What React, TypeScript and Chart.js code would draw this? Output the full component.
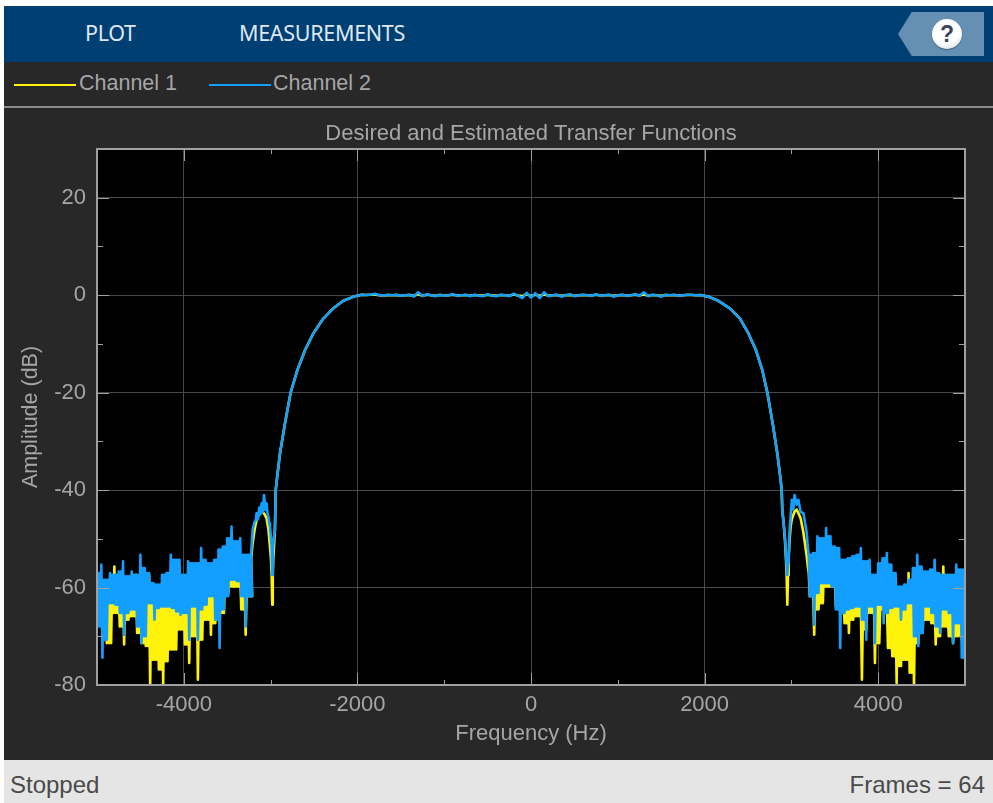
import React, { useEffect, useRef } from "react";
import { Chart, registerables } from "chart.js";

Chart.register(...registerables);

const chartTitle = "Desired and Estimated Transfer Functions";
const xAxisTitle = "Frequency (Hz)";
const yAxisTitle = "Amplitude (dB)";
const seriesNames = ["Channel 1", "Channel 2"];
const tabs = ["PLOT", "MEASUREMENTS"];
const statusLeft = "Stopped";
const statusRight = "Frames = 64";
const xLabelled = [-4000, -2000, 0, 2000, 4000];
const yLabelled = [20, 0, -20, -40, -60, -80];

const leftSideFreqs = [-5000,-4950,-4900,-4850,-4800,-4750,-4700,-4650,-4600,-4550,-4500,-4450,-4400,-4350,-4300,-4250,-4200,-4150,-4100,-4050,-4000,-3950,-3900,-3850,-3800,-3750,-3700,-3650,-3600,-3550,-3500,-3450,-3400,-3350,-3300,-3250];
const rightSideFreqs = [3200,3250,3300,3350,3400,3450,3500,3550,3600,3650,3700,3750,3800,3850,3900,3950,4000,4050,4100,4150,4200,4250,4300,4350,4400,4450,4500,4550,4600,4650,4700,4750,4800,4850,4900,4950];

const ch1LeftHigh = [-58.4,-59.1,-59.8,-58.4,-55.7,-60.4,-58.4,-60.4,-59.8,-57.4,-58.4,-60.4,-57.4,-60.4,-62.5,-60.4,-61.1,-59.8,-60.4,-61.1,-61.1,-59.8,-60.4,-59.8,-59.1,-59.8,-59.1,-58.4,-57,-57,-55,-52.9,-55,-57,-59.8,-58.4];
const ch1LeftLow = [-66.9,-70,-71.4,-71.4,-65.2,-68,-71.7,-66.6,-65.9,-69.3,-71.4,-72,-80.4,-74.8,-76.8,-79.7,-75.1,-72.7,-72.7,-68.6,-71.7,-75.5,-70,-78.9,-70.7,-66.6,-69.7,-67.3,-66.6,-65.2,-61.1,-59.8,-59.8,-64.5,-69.7,-61.8];
const ch2LeftHigh = [-57,-55.3,-58.4,-57,-57.4,-56.7,-54.6,-57.7,-56.7,-57.4,-53.3,-56,-57,-59.1,-59.4,-57.4,-57,-53.3,-54.3,-54.3,-57.4,-54.6,-55,-55,-51.9,-54.3,-55,-54.3,-52.2,-51.6,-49.9,-47.5,-50.5,-49.9,-53.3,-53.3];
const ch2LeftLow = [-68,-74.4,-70.7,-63.2,-63.5,-65.2,-69.7,-65.2,-64.5,-68,-71.4,-70,-63.2,-66.6,-64.2,-63.9,-63.9,-64.2,-64.9,-65.6,-65.2,-70.7,-63.9,-70.7,-64.5,-63.5,-61.8,-66.6,-72.4,-64.5,-61.8,-58.4,-58.7,-61.8,-68,-61.8];

const riseFreqs = [-3225,-3207,-3185,-3172,-3161,-3145,-3130,-3118,-3103,-3090,-3076,-3060,-3046,-3035,-3025,-3015,-3007,-2995,-2988,-2981,-2975,-2969,-2950,-2941,-2929,-2892,-2834,-2769,-2692,-2604,-2508,-2393,-2277,-2162,-2028,-1950];
const ch1Rise = [-54.3,-50.9,-48.2,-47,-46.1,-45.3,-44.9,-44.6,-44.4,-44.5,-44.8,-45.3,-45.8,-47,-48,-50,-51.6,-54.5,-57.4,-63.5,-57.4,-54,-48.1,-40,-38,-32.5,-26.3,-20,-15.4,-11.3,-7.85,-4.8,-2.7,-1.15,-0.2,0.1];
const ch2Rise = [-53.3,-48.1,-46.5,-46.2,-44.7,-46,-43.6,-45,-42.7,-44.5,-41,-44,-42.7,-45,-45.5,-46.8,-47.5,-50,-51.6,-57.4,-52.5,-51,-48.1,-40,-38,-32.5,-26.3,-20,-15.4,-11.3,-7.85,-4.8,-2.7,-1.15,-0.2,0.1];

const passFreqs = [-1900,-1850,-1800,-1750,-1700,-1650,-1600,-1550,-1500,-1450,-1400,-1350,-1300,-1250,-1200,-1150,-1100,-1050,-1000,-950,-900,-850,-800,-750,-700,-650,-600,-550,-500,-450,-400,-350,-300,-250,-200,-150,-100,-50,0,50,100,150,200,250,300,350,400,450,500,550,600,650,700,750,800,850,900,950,1000,1050,1100,1150,1200,1250,1300,1350,1400,1450,1500,1550,1600,1650,1700,1750,1800,1850,1900];
const ch1Pass = [0.05,0.1,0.15,0,-0.1,0.05,0,0.05,-0.1,0,0.05,-0.1,0.2,-0.1,0.1,0,-0.1,0.05,-0.05,0,0.1,-0.05,0,0.05,-0.1,0.05,-0.05,-0.1,0.1,-0.05,-0.1,0.05,0,-0.1,0.15,-0.05,-0.2,0.2,-0.15,0.1,-0.1,0.15,-0.05,0,0.05,-0.1,0,0.05,-0.1,0,0.05,0,-0.05,0.1,-0.05,0,0.05,-0.1,0,0.05,-0.05,0,0.1,-0.05,0.15,-0.1,0.05,0,-0.1,0.05,0,0.05,-0.05,0,0.05,0.05,0];
const ch2Pass = [0.05,0.1,0.3,0.05,-0.1,0.1,0,0.1,-0.1,0,0.1,-0.3,0.6,-0.2,0.2,0,-0.2,0.1,-0.1,0,0.2,-0.1,0,0.1,-0.2,0.1,-0.1,-0.2,0.2,-0.1,-0.2,0.1,0,-0.2,0.3,-0.1,-0.6,0.5,-0.5,0.4,-0.6,0.6,-0.2,0,0.1,-0.3,0,0.2,-0.2,0,0.1,0,-0.1,0.2,-0.1,0,0.1,-0.3,0,0.1,-0.1,0,0.2,-0.1,0.6,-0.2,0.1,0,-0.3,0.1,0,0.1,-0.1,0,0.1,0.1,0];

const fallFreqs = [1950,2050,2158,2292,2408,2505,2592,2665,2723,2784,2838,2876,2888,2895,2914,2928,2938,2945,2953,2961,2968,2980,2991,3005,3022,3037,3060,3080,3106,3137,3156,3176,3190];
const ch1Fall = [0.05,-0.35,-1.15,-2.7,-4.8,-7.85,-11.3,-15.4,-20,-26.3,-32.5,-37.9,-40,-44,-47.5,-51,-54.3,-57.4,-63.5,-57.4,-54.3,-50,-47.5,-46,-45.1,-44.4,-44,-44.7,-45.8,-48.6,-50.9,-53.5,-55.8];
const ch2Fall = [0.05,-0.35,-1.15,-2.7,-4.8,-7.85,-11.3,-15.4,-20,-26.3,-32.5,-37.9,-40,-44,-47.5,-50,-53.6,-55.5,-57.4,-55,-53.6,-48,-45.5,-42,-44,-41,-43,-42,-44.5,-44.7,-46.5,-48.8,-52];

const ch1RightHigh = [-57,-59.8,-59.1,-55.7,-54.6,-53.3,-57.7,-60.4,-61.1,-59.8,-60.8,-61.1,-63.9,-63.2,-62.5,-61.1,-61.8,-62.5,-63.2,-64.2,-63.9,-63.2,-61.1,-57,-61.1,-61.1,-57.4,-61.8,-61.8,-62.5,-61.1,-55.7,-63.9,-63.9,-65.2,-65.2];
const ch1RightLow = [-61.8,-69.7,-64.5,-63.2,-59.8,-59.8,-63.9,-65.2,-67.3,-69.3,-66.6,-65.9,-78.9,-68.6,-65.2,-75.5,-71.4,-64.5,-72.4,-74.1,-79.6,-76.1,-74.8,-77.5,-80.4,-71.4,-69.3,-66.6,-67.3,-71.7,-70,-68,-70,-71.4,-70,-70.7];
const ch2RightHigh = [-53.3,-52.9,-49.5,-49.9,-47.8,-49.5,-51.6,-51.9,-54.3,-54,-53.6,-53.3,-51.9,-54.6,-54.3,-57.4,-55,-54,-52.9,-55.3,-57,-59.8,-59.4,-58.4,-56,-53.3,-55.7,-56.7,-56.3,-54.3,-57,-57.4,-57.4,-57.4,-55.3,-56.3];
const ch2RightLow = [-61.8,-67.6,-61.1,-59.1,-59.1,-59.8,-64.5,-72.4,-65.2,-64.5,-64.2,-63.9,-66.6,-70.7,-63.9,-71.4,-63.5,-67.3,-65.2,-64.2,-63.9,-66.6,-64.5,-63.2,-70,-72,-69.3,-63.9,-65.2,-68,-69.3,-64.5,-65.2,-71.4,-67.3,-74.4];
const edgeFreq = 5000;
const ch1Edge = -56.3;
const ch2Edge = -57;

type Pt = { x: number; y: number };

// Each 50 Hz cell swings to its own readings, then to the band shared with the next cell,
// so the noise reads as a solid band with narrow spikes at its edges.
const band = (freqs: number[], hi: number[], lo: number[]): Pt[] =>
  freqs.flatMap((f, i) => {
    const j = Math.min(i + 1, freqs.length - 1);
    return [
      { x: f, y: hi[i] },
      { x: f + 12.5, y: lo[i] },
      { x: f + 25, y: Math.min(hi[i], hi[j]) },
      { x: f + 37.5, y: Math.max(lo[i], lo[j]) },
    ];
  });
const run = (freqs: number[], ys: number[]): Pt[] => freqs.map((f, i) => ({ x: f, y: ys[i] }));

const ch1Points: Pt[] = [
  ...band(leftSideFreqs, ch1LeftHigh, ch1LeftLow),
  ...run(riseFreqs, ch1Rise),
  ...run(passFreqs, ch1Pass),
  ...run(fallFreqs, ch1Fall),
  ...band(rightSideFreqs, ch1RightHigh, ch1RightLow),
  { x: edgeFreq, y: ch1Edge },
];
const ch2Points: Pt[] = [
  ...band(leftSideFreqs, ch2LeftHigh, ch2LeftLow),
  ...run(riseFreqs, ch2Rise),
  ...run(passFreqs, ch2Pass),
  ...run(fallFreqs, ch2Fall),
  ...band(rightSideFreqs, ch2RightHigh, ch2RightLow),
  { x: edgeFreq, y: ch2Edge },
];

const YELLOW = "#FFF20A";
const BLUE = "#129FFF";
const DARK = "#282828";
const TEXT = "#a6a6a6";
const FRAME = "#a0a0a0";
const GRID = "#484848";
const FONT = '"Liberation Sans", Arial, sans-serif';

const innerTicks = {
  id: "innerTicks",
  afterDraw(chart: any) {
    const { ctx, chartArea: a, scales } = chart;
    ctx.save();
    ctx.strokeStyle = FRAME;
    ctx.lineWidth = 1;
    for (let v = -4000; v <= 4000; v += 1000) {
      const p = Math.round(scales.x.getPixelForValue(v)) + 0.5;
      const len = xLabelled.includes(v) ? 12 : 5;
      ctx.beginPath();
      ctx.moveTo(p, a.top);
      ctx.lineTo(p, a.top + len);
      ctx.moveTo(p, a.bottom);
      ctx.lineTo(p, a.bottom - len);
      ctx.stroke();
    }
    for (let v = -70; v <= 20; v += 10) {
      const p = Math.round(scales.y.getPixelForValue(v)) + 0.5;
      const len = yLabelled.includes(v) ? 12 : 6;
      ctx.beginPath();
      ctx.moveTo(a.left, p);
      ctx.lineTo(a.left + len, p);
      ctx.moveTo(a.right, p);
      ctx.lineTo(a.right - len, p);
      ctx.stroke();
    }
    ctx.lineWidth = 2;
    ctx.strokeRect(a.left, a.top, a.right - a.left, a.bottom - a.top);
    ctx.restore();
  },
};

const blackPlot = {
  id: "blackPlot",
  beforeDraw(chart: any) {
    const { ctx, chartArea: a } = chart;
    ctx.save();
    ctx.fillStyle = "#000";
    ctx.fillRect(a.left, a.top, a.right - a.left, a.bottom - a.top);
    ctx.restore();
  },
};

export default function App() {
  const ref = useRef<HTMLCanvasElement>(null);
  useEffect(() => {
    document.body.style.margin = "0";
    document.body.style.background = "#fff";
    const chart = new Chart(ref.current!, {
      type: "line",
      data: {
        datasets: [
          { label: seriesNames[0], data: ch1Points, borderColor: YELLOW, backgroundColor: YELLOW, borderWidth: 2.6, pointRadius: 0, order: 2, tension: 0, borderJoinStyle: "round" },
          { label: seriesNames[1], data: ch2Points, borderColor: BLUE, backgroundColor: BLUE, borderWidth: 2.6, pointRadius: 0, order: 1, tension: 0, borderJoinStyle: "round" },
        ],
      },
      options: {
        animation: false,
        responsive: false,
        parsing: false,
        normalized: true,
        layout: { padding: { left: 14, right: 28, top: 0, bottom: 13 } },
        plugins: {
          legend: { display: false },
          tooltip: { enabled: false },
          title: {
            display: true,
            text: chartTitle,
            color: TEXT,
            fullSize: false,
            font: { family: FONT, size: 22, weight: "normal" },
            padding: { top: 13, bottom: 1.6 },
          },
        },
        scales: {
          x: {
            type: "linear",
            min: -5000,
            max: 5000,
            afterFit: (s: any) => { s.height = 62; },
            afterBuildTicks: (s: any) => {
              s.ticks = [-5000,-4000,-3000,-2000,-1000,0,1000,2000,3000,4000,5000].map((value) => ({ value }));
            },
            ticks: {
              color: TEXT,
              font: { family: FONT, size: 22 },
              padding: 7,
              maxRotation: 0,
              autoSkip: false,
              callback: (v: any) => (xLabelled.includes(Number(v)) ? String(v) : ""),
            },
            border: { display: false },
            grid: {
              drawTicks: false,
              lineWidth: 1,
              color: (c: any) => (xLabelled.includes(c.tick?.value) ? GRID : "transparent"),
            },
            title: { display: true, text: xAxisTitle, color: TEXT, font: { family: FONT, size: 22 }, padding: { top: 6, bottom: 0 } },
          },
          y: {
            type: "linear",
            min: -80,
            max: 30,
            afterFit: (s: any) => { s.width = 79; },
            afterBuildTicks: (s: any) => {
              s.ticks = [-80,-70,-60,-50,-40,-30,-20,-10,0,10,20,30].map((value) => ({ value }));
            },
            ticks: {
              color: TEXT,
              font: { family: FONT, size: 22 },
              padding: 11,
              autoSkip: false,
              callback: (v: any) => (yLabelled.includes(Number(v)) ? String(v) : ""),
            },
            border: { display: false },
            grid: {
              drawTicks: false,
              lineWidth: 1,
              color: (c: any) => (yLabelled.includes(c.tick?.value) ? GRID : "transparent"),
            },
            title: { display: true, text: yAxisTitle, color: TEXT, font: { family: FONT, size: 21.5 }, padding: { top: 0, bottom: 4 } },
          },
        },
      },
      plugins: [blackPlot, innerTicks],
    } as any);
    return () => chart.destroy();
  }, []);

  const abs = (l: number, t: number, w: number, h: number): React.CSSProperties => ({ position: "absolute", left: l, top: t, width: w, height: h });
  const textStyle: React.CSSProperties = { position: "absolute", whiteSpace: "nowrap", fontFamily: FONT };
  const tabStyle: React.CSSProperties = { ...textStyle, top: 19, fontFamily: '"Noto Sans"', fontSize: 21.5, letterSpacing: -0.3, lineHeight: "28px", color: "#dfe8f0" };

  return (
    <div style={{ ...abs(0, 0, 993, 803), background: "#fff", overflow: "hidden" }}>
      <div style={{ ...abs(4, 6, 989, 56), background: "#003f73" }} />
      <div style={{ ...tabStyle, left: 85 }}>{tabs[0]}</div>
      <div style={{ ...tabStyle, left: 239 }}>{tabs[1]}</div>
      <div style={{ ...abs(898, 12, 86, 44), background: "#6590b3", clipPath: "polygon(0 50%, 16% 0, 100% 0, 100% 100%, 16% 100%)" }} />
      <div style={{ ...abs(932, 19, 30, 30), borderRadius: "50%", background: "radial-gradient(circle at 45% 35%, #ffffff 55%, #c3cbd3 100%)", boxShadow: "0 1px 1px #3c5a78", textAlign: "center", fontFamily: FONT, fontWeight: 700, fontSize: 23, lineHeight: "30px", color: "#3a4660" }}>?</div>

      <div style={{ ...abs(4, 62, 989, 698), background: DARK }} />
      <div style={{ ...abs(14, 84, 62, 2), background: YELLOW }} />
      <div style={{ ...textStyle, left: 79, top: 71, fontSize: 21.5, lineHeight: "25px", color: TEXT }}>{seriesNames[0]}</div>
      <div style={{ ...abs(209, 84, 62, 2), background: BLUE }} />
      <div style={{ ...textStyle, left: 273, top: 71, fontSize: 21.5, lineHeight: "25px", color: TEXT }}>{seriesNames[1]}</div>
      <div style={{ ...abs(4, 106, 989, 2), background: "#8c8c8c" }} />

      <canvas ref={ref} width={989} height={652} style={{ position: "absolute", left: 4, top: 108, width: 989, height: 652, display: "block" }} />

      <div style={{ ...abs(4, 760, 989, 43), background: "#e5e5e5" }} />
      <div style={{ ...textStyle, left: 10, top: 772, fontSize: 24, lineHeight: "26px", color: "#4a4a4a" }}>{statusLeft}</div>
      <div style={{ ...textStyle, right: 8, top: 772, fontSize: 24, lineHeight: "26px", color: "#4a4a4a" }}>{statusRight}</div>
    </div>
  );
}
